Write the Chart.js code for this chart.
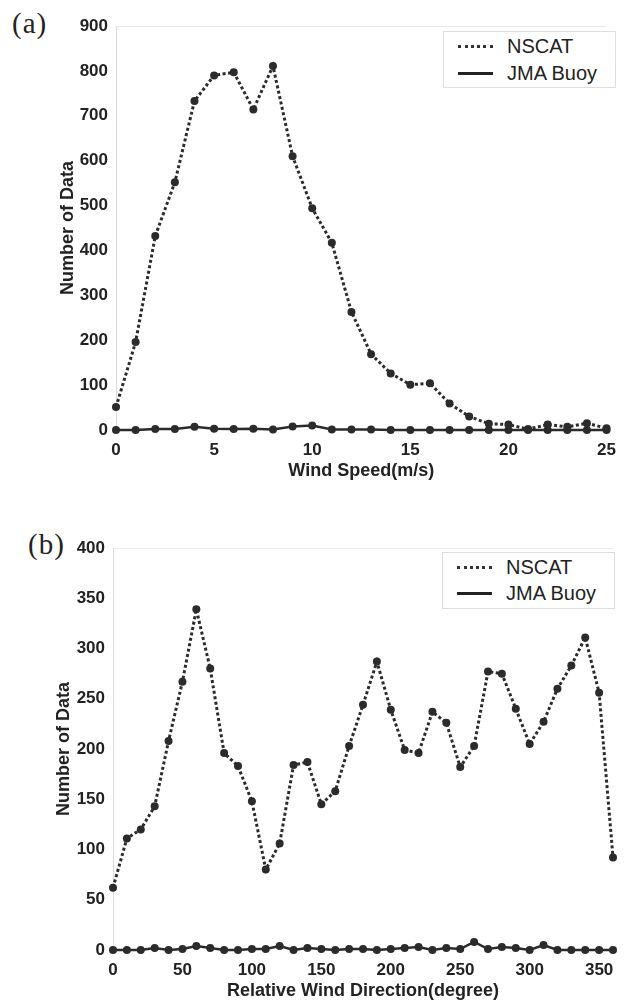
<!DOCTYPE html>
<html>
<head>
<meta charset="utf-8">
<script src="https://cdn.jsdelivr.net/npm/chart.js@4"></script>
<style>
    body { margin: 0; background: #fff; width: 626px; height: 1005px; position: relative; overflow: hidden; }
    .panel { position: absolute; left: 0; width: 626px; }
    .tag { position: absolute; font-family: "Liberation Serif", "DejaVu Serif", serif; font-size: 29px; color: #222; letter-spacing: 1px; }
    .legend { position: absolute; border: 1px solid #ddd; background: #fff; font-family: "Liberation Sans", Arial, sans-serif; font-size: 20px; color: #222; }
    .legend .row { position: absolute; left: 0; height: 24px; line-height: 24px; white-space: nowrap; }
    .legend .sample { position: absolute; left: 14px; top: 11px; width: 35px; }
    .legend .dotted { border-top: 3px dotted #333; }
    .legend .solid { border-top: 3px solid #222; }
    .legend .label { position: absolute; left: 63px; top: 0; }
</style>
</head>
<body>

<div class="tag" style="left:12px; top:7px;">(a)</div>
<div class="panel" style="top:0; height:500px;"><canvas id="speedChart" width="626" height="500"></canvas></div>
<div class="legend" style="left:443px; top:31px; width:171px; height:55px;">
    <div class="row" style="top:2px;"><div class="sample dotted"></div><span class="label">NSCAT</span></div>
    <div class="row" style="top:29px;"><div class="sample solid"></div><span class="label">JMA Buoy</span></div>
</div>

<div class="tag" style="left:28px; top:528px;">(b)</div>
<div class="panel" style="top:510px; height:495px;"><canvas id="dirChart" width="626" height="495"></canvas></div>
<div class="legend" style="left:442px; top:552px; width:171px; height:55px;">
    <div class="row" style="top:2px;"><div class="sample dotted"></div><span class="label">NSCAT</span></div>
    <div class="row" style="top:28px;"><div class="sample solid"></div><span class="label">JMA Buoy</span></div>
</div>

<script>
// (a) wind speed histogram
const speedBins = [0, 1, 2, 3, 4, 5, 6, 7, 8, 9, 10, 11, 12, 13, 14, 15, 16, 17, 18, 19, 20, 21, 22, 23, 24, 25];
const speedNscat = [51, 196, 432, 552, 733, 790, 797, 714, 811, 610, 494, 417, 263, 169, 126, 101, 104, 59, 30, 14, 12, 2, 12, 7, 15, 4];
const speedBuoy = [0, 0, 2, 2, 7, 3, 2, 3, 1, 8, 10, 1, 1, 1, 0, 0, 0, 0, 0, 0, 0, 0, 0, 0, 0, 0];
const speedTicks = [0, 5, 10, 15, 20, 25];

// (b) relative wind direction histogram
const dirBins = [0, 10, 20, 30, 40, 50, 60, 70, 80, 90, 100, 110, 120, 130, 140, 150, 160, 170, 180,
    190, 200, 210, 220, 230, 240, 250, 260, 270, 280, 290, 300, 310, 320, 330, 340, 350, 360];
const dirNscat = [62, 111, 120, 143, 208, 267, 339, 280, 196, 183, 148, 80, 106, 184, 187, 145, 158, 203, 244,
    287, 239, 199, 196, 237, 226, 182, 203, 277, 275, 240, 205, 227, 260, 283, 311, 256, 92];
const dirBuoy = [0, 0, 0, 2, 0, 1, 4, 2, 0, 0, 1, 1, 4, 0, 2, 1, 0, 1, 1,
    0, 1, 2, 3, 0, 2, 1, 8, 1, 3, 2, 0, 5, 0, 0, 0, 0, 0];
const dirTicks = [0, 50, 100, 150, 200, 250, 300, 350];

const FONT = '"Liberation Sans", Arial, sans-serif';
const INK = '#2b2b2b';

function toPoints(xs, ys) {
    return xs.map((x, i) => ({ x: x, y: ys[i] }));
}

function makeChart(id, cfg) {
    const ctx = document.getElementById(id).getContext('2d');
    return new Chart(ctx, {
        type: 'line',
        data: {
            datasets: [{
                label: 'NSCAT',
                data: toPoints(cfg.bins, cfg.nscat),
                borderColor: INK,
                backgroundColor: INK,
                borderWidth: 3,
                borderDash: [3, 2.5],
                pointRadius: 4,
                pointBorderWidth: 0,
                clip: false,
                tension: 0
            }, {
                label: 'JMA Buoy',
                data: toPoints(cfg.bins, cfg.buoy),
                borderColor: INK,
                backgroundColor: INK,
                borderWidth: 2.5,
                pointRadius: 4,
                pointBorderWidth: 0,
                clip: false,
                tension: 0
            }]
        },
        options: {
            responsive: false,
            animation: false,
            layout: { padding: cfg.padding },
            plugins: {
                legend: { display: false },
                tooltip: { enabled: false }
            },
            scales: {
                x: {
                    type: 'linear',
                    min: cfg.xMin,
                    max: cfg.xMax,
                    afterFit: s => { s.height = cfg.xAxisHeight; },
                    afterBuildTicks: s => { s.ticks = cfg.xTicks.map(v => ({ value: v })); },
                    grid: { display: false, drawTicks: false },
                    border: { display: false },
                    ticks: {
                        padding: 10,
                        color: '#222',
                        maxRotation: 0,
                        font: { family: FONT, size: 17, weight: 'bold' }
                    },
                    title: {
                        display: true,
                        text: cfg.xTitle,
                        color: '#222',
                        padding: { top: 0, bottom: cfg.xTitlePad },
                        font: { family: FONT, size: 18, weight: 'bold' }
                    }
                },
                y: {
                    min: 0,
                    max: cfg.yMax,
                    afterFit: s => { s.width = cfg.yAxisWidth; },
                    grid: {
                        drawTicks: false,
                        color: c => (c.tick && c.tick.value === cfg.yMax) ? '#e8e8e8' : 'rgba(0,0,0,0)'
                    },
                    border: { display: true, color: '#dcdcdc', width: 1 },
                    ticks: {
                        stepSize: cfg.yStep,
                        padding: 8,
                        color: '#222',
                        font: { family: FONT, size: 17, weight: 'bold' }
                    },
                    title: {
                        display: true,
                        text: 'Number of Data',
                        color: '#222',
                        padding: { top: cfg.yTitlePad, bottom: 0 },
                        font: { family: FONT, size: 18, weight: 'bold' }
                    }
                }
            }
        }
    });
}

makeChart('speedChart', {
    bins: speedBins, nscat: speedNscat, buoy: speedBuoy, xTicks: speedTicks,
    xMin: 0, xMax: 25, yMax: 900, yStep: 100,
    xTitle: 'Wind Speed(m/s)',
    padding: { top: 26, right: 11, left: 0, bottom: 0 },
    yAxisWidth: 116, xAxisHeight: 70, xTitlePad: 18, yTitlePad: 57
});

makeChart('dirChart', {
    bins: dirBins, nscat: dirNscat, buoy: dirBuoy, xTicks: dirTicks,
    xMin: 0, xMax: 360, yMax: 400, yStep: 50,
    xTitle: 'Relative Wind Direction(degree)',
    padding: { top: 38, right: 13, left: 0, bottom: 0 },
    yAxisWidth: 113, xAxisHeight: 55, xTitlePad: 3, yTitlePad: 53
});
</script>
</body>
</html>
